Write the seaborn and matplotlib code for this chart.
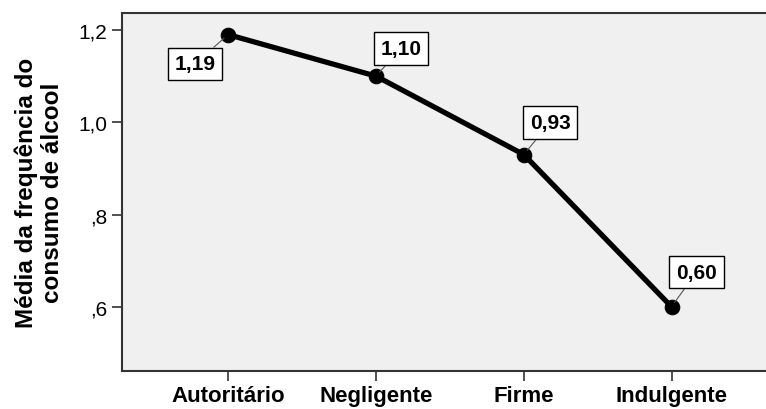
import numpy as np
import pandas as pd
import matplotlib
matplotlib.use("Agg")
import matplotlib.pyplot as plt
import seaborn as sns

estilos = ["Autoritário", "Negligente", "Firme", "Indulgente"]
medias = [1.19, 1.10, 0.93, 0.60]
rotulos = ["1,19", "1,10", "0,93", "0,60"]
y_ticks = [0.6, 0.8, 1.0, 1.2]
y_tick_labels = [",6", ",8", "1,0", "1,2"]
# label box offsets (points) relative to each marker
offsets = [(-24, -21), (18, 20), (19, 23), (18, 25)]

sns.set_style("ticks")
plt.rcParams['font.family'] = ['Liberation Sans', 'DejaVu Sans']
plt.rcParams['text.color'] = 'black'
plt.rcParams['axes.labelcolor'] = 'black'
plt.rcParams['xtick.color'] = 'black'
plt.rcParams['ytick.color'] = 'black'

df = pd.DataFrame({"estilo": estilos, "media": medias})

fig = plt.figure(figsize=(7.66, 4.10), dpi=100)
ax = fig.add_axes([0.159, 0.093, 0.845, 0.873])
ax.set_facecolor("#f0f0f0")

sns.lineplot(data=df, x="estilo", y="media", sort=False, color="black",
             linewidth=3.8, marker="o", markersize=10.5, markeredgecolor="black", ax=ax)

for i, (v, lab, off) in enumerate(zip(medias, rotulos, offsets)):
    ax.annotate(lab, xy=(i, v), xytext=off, textcoords="offset points",
                ha="center", va="center", fontsize=15, fontweight="bold",
                bbox=dict(boxstyle="square,pad=0.32", fc="white", ec="black", lw=1),
                arrowprops=dict(arrowstyle="-", color="#555555", lw=0.8,
                                shrinkA=0, shrinkB=4))

ax.set_xlim(-0.72, 3.66)
ax.set_ylim(0.461, 1.237)
ax.set_yticks(y_ticks)
ax.set_yticklabels(y_tick_labels, fontsize=15)
ax.set_xticks(range(len(estilos)))
ax.set_xticklabels(estilos, fontsize=16, fontweight="bold")
ax.tick_params(axis="both", direction="out", length=7, width=1.2, color="#333333")
ax.set_xlabel("")
ax.set_ylabel("Média da frequência do\nconsumo de álcool", fontsize=17.5,
              fontweight="bold", labelpad=10)
for s in ax.spines.values():
    s.set_color("#333333")
    s.set_linewidth(1.5)
ax.spines["right"].set_visible(False)

fig.savefig("out.png", dpi=100)
